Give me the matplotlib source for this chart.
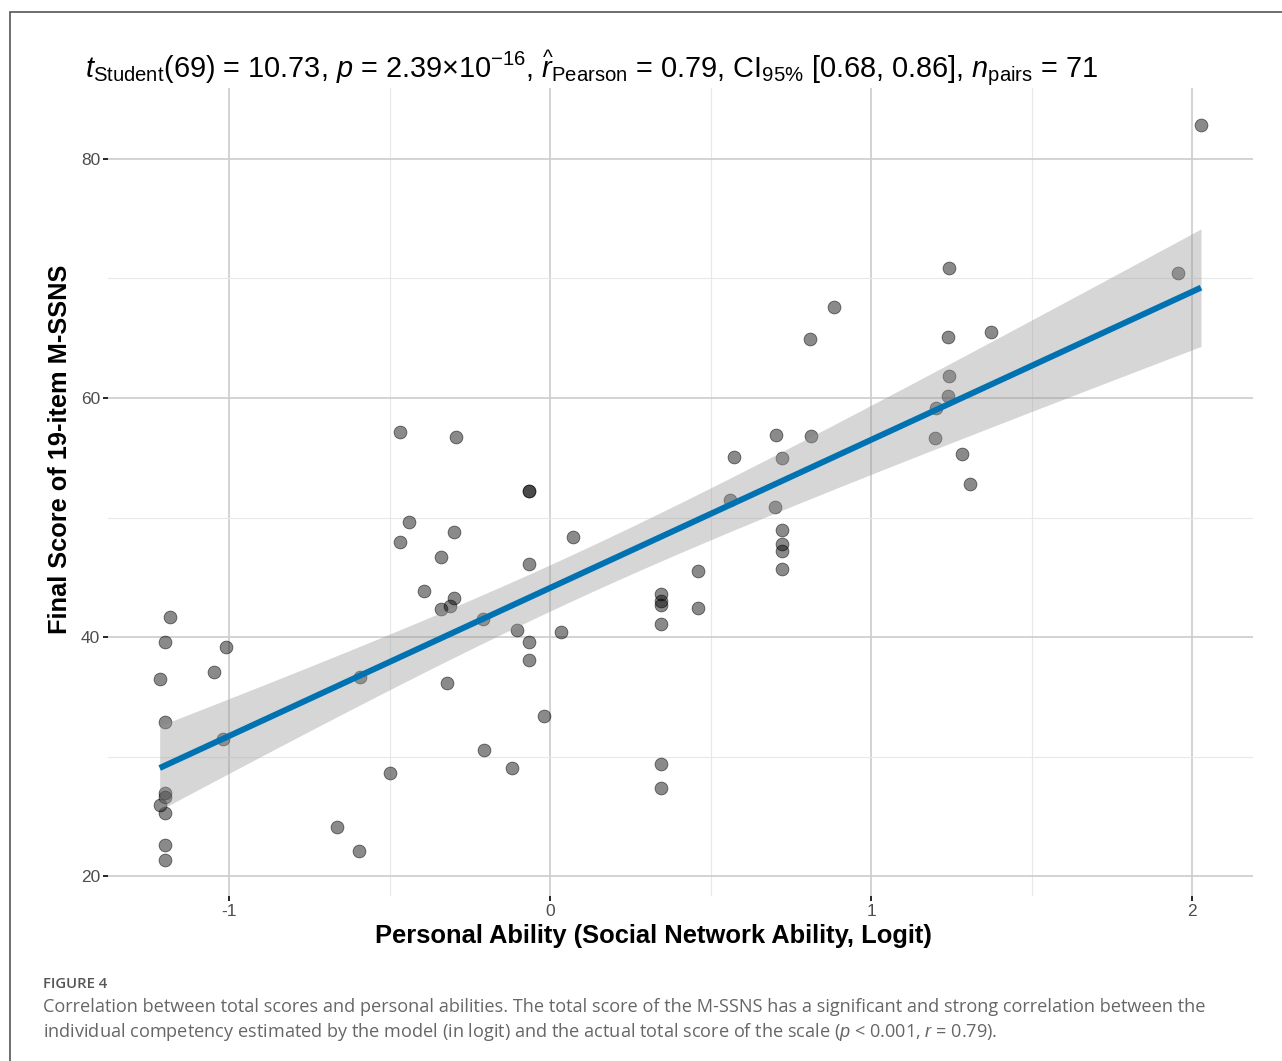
import matplotlib
matplotlib.use('Agg')
import matplotlib.pyplot as plt
import matplotlib.patches as mpatches
import numpy

plt.rcParams['font.family'] = ['Liberation Sans', 'DejaVu Sans']
plt.rcParams['mathtext.fontset'] = 'custom'
plt.rcParams['mathtext.rm'] = 'Liberation Sans'
plt.rcParams['mathtext.it'] = 'Liberation Sans:italic'
plt.rcParams['mathtext.bf'] = 'Liberation Sans:bold'
plt.rcParams['axes.unicode_minus'] = False

# personal ability (logit) and final M-SSNS score
ABILITY = [-1.184, -1.198, -1.216, -1.198, -1.198, -1.198, -1.216, -1.198, -1.198, -1.198,
           -1.009, -1.047, -1.018, -0.592, -0.498, -0.663, -0.594, -0.393, -0.467, -0.293,
           -0.064, -0.064, -0.438, -0.300, -0.467, -0.340, -0.064, 0.071, -0.300, -0.340,
           -0.311, -0.210, -0.104, 0.034, -0.065, -0.065, -0.322, -0.018, -0.205, -0.119,
           0.703, 0.812, 0.572, 0.723, 0.561, 0.702, 0.723, 0.723, 0.723, 0.723,
           0.460, 0.460, 0.346, 0.346, 0.346, 0.346, 0.346, 0.346, 1.202, 1.200,
           1.285, 1.308, 2.028, 1.243, 1.957, 1.239, 1.374, 1.243, 1.239, 0.810,
           0.885]
SCORE = [41.67, 39.58, 36.49, 32.89, 26.95, 26.60, 25.94, 25.27, 22.59, 21.34,
         39.19, 37.10, 31.44, 36.68, 28.59, 24.10, 22.12, 43.83, 57.18, 56.77,
         52.22, 52.22, 49.65, 48.81, 47.98, 46.67, 46.08, 48.37, 43.26, 42.37,
         42.59, 41.55, 40.60, 40.45, 39.58, 38.05, 36.13, 33.37, 30.54, 29.00,
         56.93, 56.86, 55.10, 54.94, 51.46, 50.84, 48.95, 47.78, 47.22, 45.66,
         45.55, 42.46, 43.60, 42.99, 42.71, 41.09, 29.37, 27.36, 59.14, 56.65,
         55.31, 52.80, 82.85, 70.85, 70.44, 65.10, 65.56, 61.84, 60.17, 64.94,
         67.60]

X_TICKS = [-1, 0, 1, 2]
Y_TICKS = [20, 40, 60, 80]
T_CRIT = 1.995  # t(0.975, df=69)

TITLE = (r"$t_{\mathrm{Student}}$(69) = 10.73, $p$ = 2.39×10$^{\mathrm{-16}}$, "
         r"$\widehat{r}_{\mathrm{Pearson}}$ = 0.79, CI$_{\mathrm{95\%}}$ [0.68, 0.86], "
         r"$n_{\mathrm{pairs}}$ = 71")
CAPTION_LINES = ["Correlation between total scores and personal abilities. The total score of the M-SSNS has a "
                 "significant and strong correlation between the",
                 "individual competency estimated by the model (in logit) and the actual total score of the "
                 "scale ($p$ < 0.001, $r$ = 0.79)."]

W, H = 1282, 1061
fig = plt.figure(figsize=(W / 100, H / 100), dpi=100)
ax = fig.add_axes([108 / W, 1 - 896 / H, (1253 - 108) / W, (896 - 88) / H])

x = numpy.array(ABILITY)
y = numpy.array(SCORE)

# linear fit with 95% confidence band
slope, intercept = numpy.polyfit(x, y, 1)
n = len(x)
resid = y - (intercept + slope * x)
s = numpy.sqrt(numpy.sum(resid ** 2) / (n - 2))
xs = numpy.linspace(x.min(), x.max(), 100)
ys = intercept + slope * xs
se = s * numpy.sqrt(1 / n + (xs - x.mean()) ** 2 / numpy.sum((x - x.mean()) ** 2))

ax.scatter(x, y, s=85, facecolor=(0, 0, 0, 0.46), edgecolor=(0, 0, 0, 0.55), linewidth=0.6, zorder=2)
ax.fill_between(xs, ys - T_CRIT * se, ys + T_CRIT * se, color='#999999', alpha=0.4, lw=0, zorder=3)
ax.plot(xs, ys, color='#0072B2', lw=4.3, zorder=4, solid_capstyle='butt')

ax.set_xlim(-1.377, 2.19)
ax.set_ylim(18.33, 85.94)
ax.set_xticks(X_TICKS)
ax.set_yticks(Y_TICKS)
ax.set_xticks([-0.5, 0.5, 1.5], minor=True)
ax.set_yticks([30, 50, 70], minor=True)
ax.grid(which='major', color='#cccccc', lw=1.2)
ax.grid(which='minor', color='#e8e8e8', lw=0.8)
ax.set_axisbelow(True)
for sp in ax.spines.values():
    sp.set_visible(False)
ax.tick_params(which='major', length=3.5, width=1.2, color='black', labelsize=12.5,
               labelcolor='#4d4d4d', pad=2)
ax.tick_params(which='minor', length=0)

fig.text(85 / W, 1 - 77 / H, TITLE, fontsize=20.8, ha='left', va='baseline')
fig.text(653 / W, 1 - 936 / H, 'Personal Ability (Social Network Ability, Logit)',
         fontsize=18.4, fontweight='bold', ha='center', va='center')
fig.text(60 / W, 1 - 449 / H, 'Final Score of 19-item M-SSNS', fontsize=18.3, fontweight='bold',
         rotation=90, ha='center', va='center')

# card frame
fig.add_artist(mpatches.Rectangle((10 / W, -0.05), 1.2, 1 - 12 / H + 0.05, transform=fig.transFigure,
                                  fill=False, ec='#555555', lw=1.2))

fig.text(43 / W, 1 - 984 / H, 'FIGURE 4', fontsize=10.7, fontweight='semibold', color='#555555',
         family=['Open Sans', 'DejaVu Sans'], ha='left', va='center')
for i, line in enumerate(CAPTION_LINES):
    fig.text(43 / W, 1 - (1007 + 25 * i) / H, line, fontsize=13.1, color='#666666',
             family=['Open Sans', 'DejaVu Sans'], ha='left', va='center')

plt.savefig('out.png', dpi=100)
